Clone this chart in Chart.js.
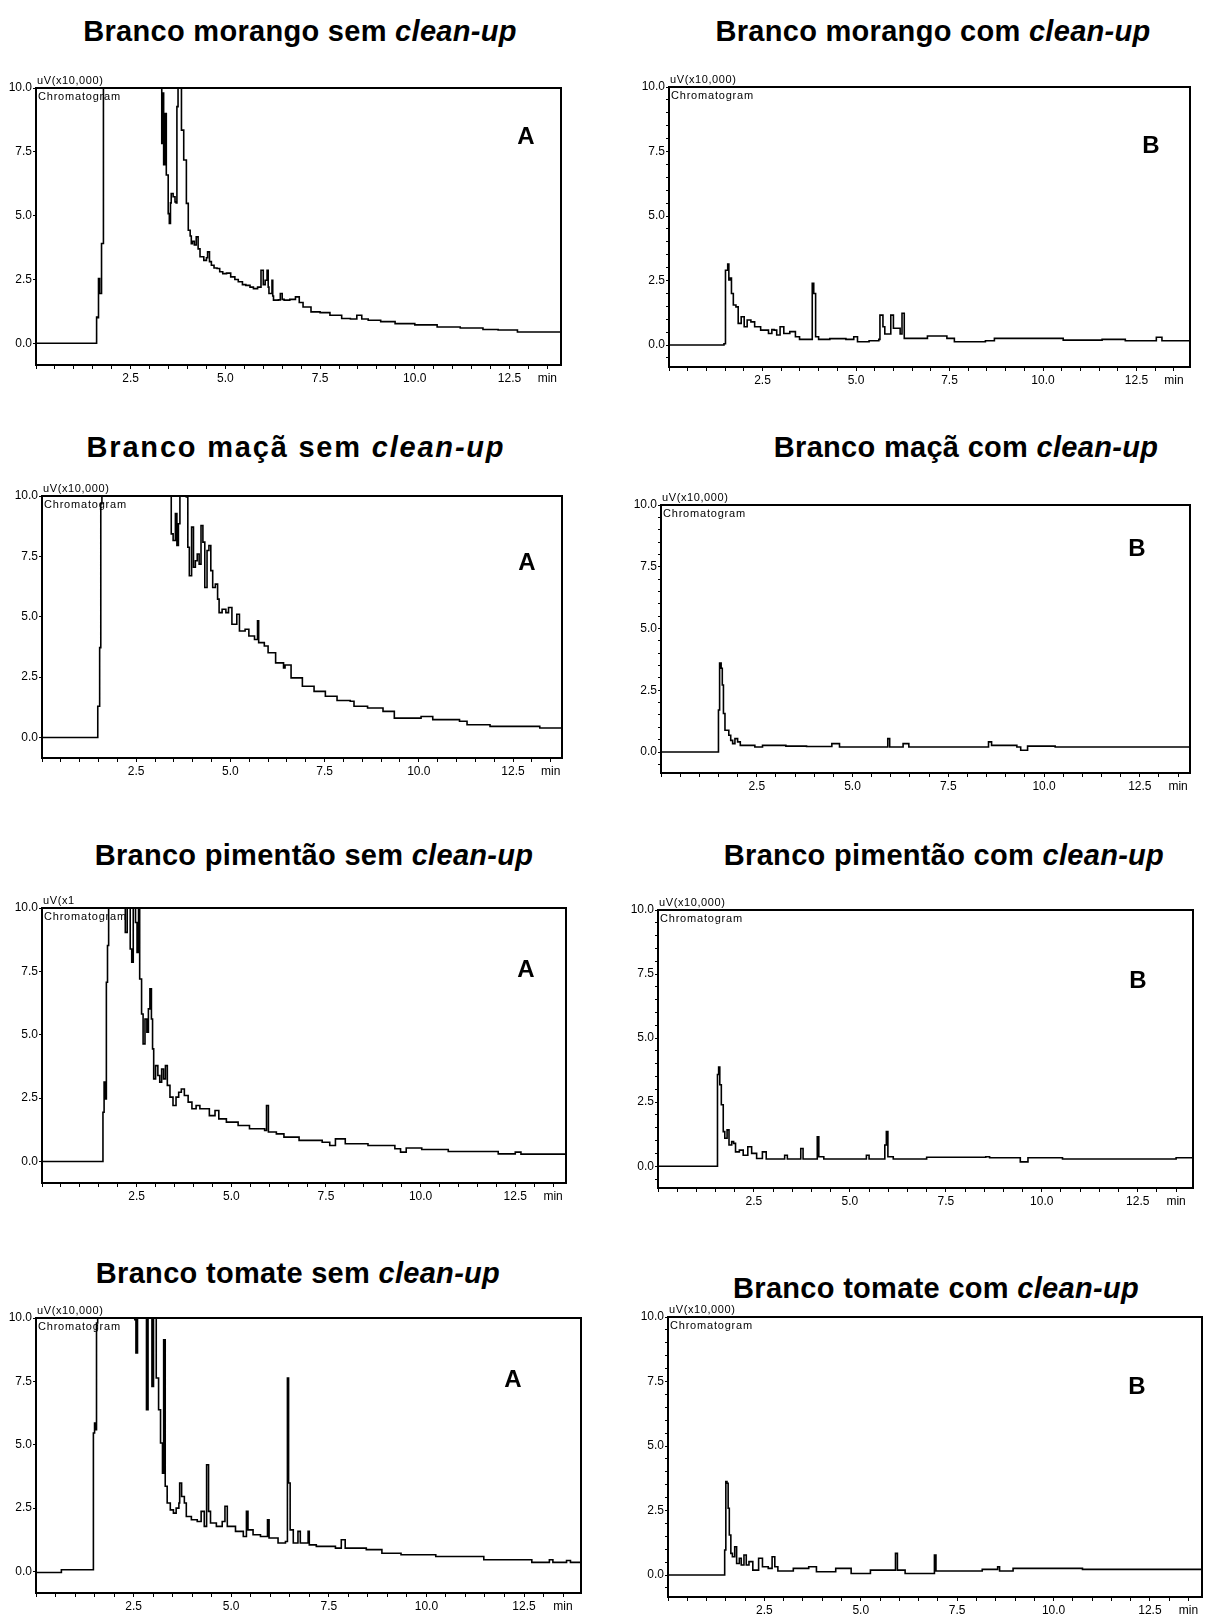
<!DOCTYPE html>
<html>
<head>
<meta charset="utf-8">
<script src="https://cdn.jsdelivr.net/npm/chart.js@4.4.0/dist/chart.umd.min.js"></script>
<style>
  body { margin: 0; background: #fff; }
  #page { position: relative; width: 1205px; height: 1617px; overflow: hidden; font-family: "Liberation Sans", Arial, sans-serif; color: #000; }
  .title { position: absolute; font-weight: bold; font-size: 29px; line-height: 29px; letter-spacing: 0.3px; white-space: nowrap; transform: translateX(-50%); }
  .tag { position: absolute; font-weight: bold; font-size: 24px; line-height: 24px; transform: translateX(-50%); }
  .unit { position: absolute; font-size: 11px; line-height: 11px; letter-spacing: 0.6px; white-space: nowrap; }
  .chrom { position: absolute; font-size: 11px; line-height: 11px; letter-spacing: 0.8px; white-space: nowrap; }
  canvas { position: absolute; }
</style>
</head>
<body>
<div id="page"></div>
<script>
// retention time (min), signal (uV x 10,000)
const morangoSem = [[0,0],[1.58,0],[1.60,1.03],[1.63,1.0],[1.65,2.54],[1.68,1.95],[1.70,1.95],[1.73,3.91],[1.78,12],[3.30,12],[3.32,7.83],[3.35,9.8],[3.37,7.0],[3.40,9.0],[3.44,6.59],[3.49,5.08],[3.52,4.69],[3.55,5.5],[3.57,5.87],[3.62,5.74],[3.67,5.54],[3.70,5.5],[3.72,9.27],[3.75,12],[3.82,12],[3.84,8.35],[3.90,7.18],[3.97,5.48],[4.02,4.43],[4.07,4.2],[4.10,3.9],[4.13,4.0],[4.18,3.85],[4.23,4.17],[4.28,3.7],[4.33,3.39],[4.43,3.25],[4.50,3.35],[4.53,3.58],[4.58,3.2],[4.63,3.06],[4.70,2.95],[4.78,2.93],[4.85,2.8],[4.93,2.73],[5.03,2.75],[5.14,2.60],[5.25,2.5],[5.34,2.41],[5.45,2.3],[5.54,2.27],[5.65,2.2],[5.74,2.14],[5.85,2.2],[5.94,2.86],[6.00,2.3],[6.05,2.47],[6.10,2.86],[6.13,2.2],[6.15,1.95],[6.23,2.47],[6.25,1.85],[6.27,1.69],[6.40,1.7],[6.45,1.95],[6.50,1.72],[6.55,1.69],[6.70,1.72],[6.85,1.82],[6.95,1.6],[7.05,1.42],[7.26,1.23],[7.50,1.2],[7.76,1.10],[8.07,0.97],[8.30,0.95],[8.47,1.10],[8.60,0.95],[8.77,0.90],[9.10,0.85],[9.48,0.77],[10.0,0.72],[10.59,0.64],[11.2,0.6],[11.8,0.54],[12.2,0.52],[12.71,0.44],[13.9,0.44]];
const morangoCom = [[0,0],[1.43,0],[1.47,0.05],[1.51,2.90],[1.57,3.14],[1.60,2.52],[1.63,2.6],[1.67,2.0],[1.72,1.55],[1.79,1.48],[1.85,0.84],[1.93,1.10],[2.01,0.71],[2.09,0.97],[2.19,0.90],[2.29,0.71],[2.45,0.58],[2.66,0.45],[2.75,0.6],[2.81,0.58],[2.88,0.39],[2.97,0.71],[3.07,0.45],[3.23,0.52],[3.38,0.32],[3.49,0.22],[3.78,0.22],[3.83,2.39],[3.87,2.0],[3.92,0.32],[4.00,0.22],[4.30,0.25],[4.73,0.22],[4.94,0.32],[5.04,0.13],[5.35,0.17],[5.61,0.22],[5.64,1.16],[5.72,0.71],[5.77,0.43],[5.89,0.43],[5.93,1.16],[6.00,0.65],[6.18,0.43],[6.23,1.23],[6.29,0.26],[6.80,0.26],[6.91,0.35],[7.43,0.26],[7.63,0.13],[8.46,0.17],[8.70,0.26],[9.50,0.26],[10.54,0.19],[11.58,0.22],[12.2,0.17],[13.03,0.30],[13.18,0.17],[13.95,0.17]];
const macaSem = [[0,0],[1.45,0],[1.48,1.29],[1.53,3.72],[1.56,9.68],[1.59,12],[3.41,12],[3.43,8.43],[3.48,8.16],[3.54,9.27],[3.58,7.95],[3.62,8.85],[3.66,12],[3.77,12],[3.83,9.96],[3.87,7.88],[3.91,6.70],[3.97,8.71],[4.02,7.05],[4.07,7.32],[4.12,7.60],[4.17,7.18],[4.22,8.78],[4.27,8.09],[4.32,6.21],[4.38,7.74],[4.43,7.95],[4.48,6.91],[4.53,6.21],[4.60,6.35],[4.66,5.73],[4.70,5.17],[4.78,5.31],[4.88,5.17],[4.95,5.38],[5.04,4.69],[5.17,5.10],[5.24,4.41],[5.39,4.48],[5.49,4.20],[5.64,4.06],[5.72,4.83],[5.75,3.93],[5.90,3.79],[6.00,3.51],[6.20,3.09],[6.41,2.88],[6.45,3.0],[6.61,2.47],[6.91,2.12],[7.22,1.91],[7.52,1.71],[7.83,1.53],[8.18,1.50],[8.28,1.29],[8.64,1.22],[9.05,1.08],[9.35,0.80],[10.06,0.87],[10.37,0.74],[11.08,0.67],[11.28,0.53],[11.89,0.46],[13.21,0.39],[13.95,0.39]];
const macaCom = [[0,0],[1.48,0],[1.50,1.70],[1.53,3.60],[1.57,3.39],[1.60,2.71],[1.63,1.56],[1.67,0.88],[1.73,0.88],[1.77,0.68],[1.82,0.47],[1.87,0.34],[1.93,0.54],[2.00,0.41],[2.07,0.27],[2.45,0.20],[2.65,0.27],[3.26,0.24],[3.80,0.22],[4.46,0.34],[4.66,0.20],[5.92,0.54],[5.97,0.20],[6.32,0.34],[6.47,0.20],[8.48,0.20],[8.55,0.41],[8.63,0.27],[9.29,0.20],[9.39,0.07],[9.49,0.07],[9.57,0.24],[10.29,0.20],[13.95,0.18]];
const pimentaoSem = [[0,0],[1.59,0],[1.61,1.94],[1.64,3.13],[1.67,2.47],[1.70,7.07],[1.73,8.52],[1.76,12],[2.17,12],[2.20,9.04],[2.25,12],[2.33,8.38],[2.37,7.86],[2.41,12],[2.47,9.43],[2.51,8.25],[2.55,12],[2.58,7.20],[2.63,5.82],[2.67,4.64],[2.72,5.62],[2.77,5.10],[2.81,6.02],[2.85,6.81],[2.89,5.62],[2.92,4.44],[2.95,3.26],[3.00,3.78],[3.06,3.39],[3.11,3.13],[3.16,3.65],[3.21,3.26],[3.26,3.78],[3.31,3.00],[3.38,2.54],[3.46,2.21],[3.54,2.54],[3.61,2.73],[3.68,2.86],[3.76,2.60],[3.86,2.34],[3.96,2.08],[4.07,2.21],[4.17,2.08],[4.32,2.08],[4.42,1.81],[4.57,2.01],[4.67,1.68],[4.87,1.55],[5.18,1.42],[5.48,1.29],[5.88,1.22],[5.93,2.21],[5.98,1.16],[6.19,1.09],[6.39,0.96],[6.79,0.83],[7.40,0.76],[7.60,0.63],[7.75,0.89],[8.01,0.70],[8.61,0.63],[9.32,0.50],[9.47,0.37],[9.62,0.53],[10.03,0.47],[10.73,0.39],[12.05,0.30],[12.50,0.37],[12.65,0.29],[13.95,0.29]];
const pimentaoCom = [[0,0],[1.53,0],[1.55,3.58],[1.58,3.87],[1.61,3.18],[1.65,2.40],[1.70,1.35],[1.74,1.09],[1.80,1.42],[1.85,0.83],[1.92,0.96],[1.97,0.89],[2.02,0.56],[2.12,0.63],[2.22,0.43],[2.34,0.76],[2.44,0.50],[2.57,0.30],[2.72,0.56],[2.82,0.28],[3.30,0.43],[3.37,0.28],[3.72,0.69],[3.78,0.28],[4.15,1.15],[4.19,0.37],[4.32,0.28],[5.43,0.43],[5.50,0.28],[5.91,0.83],[5.95,1.35],[5.99,0.37],[6.13,0.28],[7.0,0.35],[8.54,0.37],[8.64,0.33],[9.44,0.17],[9.64,0.33],[10.54,0.28],[13.50,0.33],[13.95,0.28]];
const tomateSem = [[-0.1,-0.04],[0.63,-0.04],[0.65,0.07],[1.45,0.07],[1.47,5.46],[1.50,5.86],[1.53,5.59],[1.55,9.80],[1.58,12],[2.50,12],[2.53,9.93],[2.55,12],[2.56,8.62],[2.60,12],[2.80,12],[2.83,6.38],[2.87,12],[2.95,12],[2.97,7.30],[3.01,12],[3.06,12],[3.08,7.63],[3.14,6.38],[3.19,5.07],[3.24,3.88],[3.27,9.14],[3.31,3.36],[3.36,2.70],[3.44,2.43],[3.52,2.30],[3.59,2.50],[3.66,2.70],[3.68,3.49],[3.73,2.96],[3.80,2.70],[3.85,2.17],[3.98,2.04],[4.13,1.97],[4.23,2.37],[4.31,1.78],[4.37,4.21],[4.42,2.37],[4.47,1.91],[4.62,1.78],[4.77,1.97],[4.84,2.57],[4.90,1.78],[5.11,1.58],[5.31,1.38],[5.39,2.37],[5.43,1.64],[5.56,1.45],[5.75,1.38],[5.90,1.38],[5.93,2.04],[5.97,1.32],[6.20,1.12],[6.39,1.18],[6.44,7.63],[6.47,3.49],[6.51,1.64],[6.59,1.12],[6.71,1.58],[6.77,1.12],[6.97,1.58],[7.00,1.05],[7.18,0.99],[7.67,0.92],[7.82,1.25],[7.92,0.92],[8.46,0.86],[8.86,0.72],[9.35,0.66],[10.24,0.59],[11.47,0.46],[12.70,0.36],[13.15,0.46],[13.24,0.36],[13.59,0.43],[13.69,0.36],[14.0,0.36]];
const tomateCom = [[0,0],[1.45,0],[1.47,0.97],[1.50,3.62],[1.53,3.56],[1.56,2.59],[1.59,1.55],[1.63,0.84],[1.67,0.71],[1.73,1.10],[1.78,0.45],[1.85,0.65],[1.90,0.39],[1.97,0.78],[2.03,0.39],[2.10,0.52],[2.20,0.19],[2.35,0.65],[2.45,0.32],[2.60,0.26],[2.70,0.71],[2.77,0.32],[2.85,0.16],[3.25,0.26],[3.65,0.32],[3.85,0.13],[4.35,0.26],[4.75,0.06],[5.25,0.19],[5.85,0.19],[5.90,0.84],[5.95,0.19],[6.15,0.06],[6.85,0.06],[6.91,0.78],[6.95,0.16],[8.15,0.22],[8.55,0.32],[8.60,0.16],[8.95,0.26],[10.75,0.22],[13.95,0.16]];

// axis ticks
const xTicks = [0, 0.5, 1, 1.5, 2, 2.5, 3, 3.5, 4, 4.5, 5, 5.5, 6, 6.5, 7, 7.5, 8, 8.5, 9, 9.5, 10, 10.5, 11, 11.5, 12, 12.5, 13, 13.5];
const xLabeled = [2.5, 5, 7.5, 10, 12.5];
const xUnitTick = 13.5;
const yMajorTicks = [0, 2.5, 5, 7.5, 10];
const yMinorTicks = [-0.5, 0, 0.5, 1, 1.5, 2, 2.5, 3, 3.5, 4, 4.5, 5, 5.5, 6, 6.5, 7, 7.5, 8, 8.5, 9, 9.5, 10];

const page = document.getElementById("page");
const FONT = "'Liberation Sans', Arial, sans-serif";

// box = plot frame [left, top, right, bottom] in page pixels
const panels = [
  { data: morangoSem, title: "Branco morango sem", tag: "A", unit: "uV(x10,000)", box: [36, 88, 561, 365], xMax: 13.86, titleAt: [300, 41], tagAt: [526, 144], minorY: false },
  { data: morangoCom, title: "Branco morango com", tag: "B", unit: "uV(x10,000)", box: [669, 87, 1190, 367], xMax: 13.93, titleAt: [933, 41], tagAt: [1151, 153], minorY: true },
  { data: macaSem, title: "Branco maçã sem", tag: "A", unit: "uV(x10,000)", box: [42, 496, 562, 758], xMax: 13.8, titleAt: [296, 457], tagAt: [527, 570], minorY: false, spacing: 1.8 },
  { data: macaCom, title: "Branco maçã com", tag: "B", unit: "uV(x10,000)", box: [661, 505, 1190, 773], xMax: 13.81, titleAt: [966, 457], tagAt: [1137, 556], minorY: true },
  { data: pimentaoSem, title: "Branco pimentão sem", tag: "A", unit: "uV(x1", box: [42, 908, 566, 1183], xMax: 13.84, titleAt: [314, 865], tagAt: [526, 977], minorY: false },
  { data: pimentaoCom, title: "Branco pimentão com", tag: "B", unit: "uV(x10,000)", box: [658, 910, 1193, 1188], xMax: 13.94, titleAt: [944, 865], tagAt: [1138, 988], minorY: true },
  { data: tomateSem, title: "Branco tomate sem", tag: "A", unit: "uV(x10,000)", box: [36, 1318, 581, 1593], xMax: 13.96, titleAt: [298, 1283], tagAt: [513, 1387], minorY: false },
  { data: tomateCom, title: "Branco tomate com", tag: "B", unit: "uV(x10,000)", box: [668, 1317, 1202, 1597], xMax: 13.85, titleAt: [936, 1298], tagAt: [1137, 1394], minorY: true },
];

const frame = {
  id: "frame",
  afterDatasetsDraw(chart) {
    const { ctx, chartArea: a } = chart;
    ctx.save();
    ctx.strokeStyle = "#000";
    ctx.lineWidth = 2;
    ctx.strokeRect(a.left, a.top, a.right - a.left, a.bottom - a.top);
    ctx.restore();
  },
};

function addText(cls, html, left, top) {
  const el = document.createElement("div");
  el.className = cls;
  el.innerHTML = html;
  el.style.left = left + "px";
  el.style.top = top + "px";
  page.appendChild(el);
  return el;
}

function drawPanel(p) {
  const [L, T, R, B] = p.box;
  const padL = 40, padT = 12, padR = 3, padB = 30;
  const cv = document.createElement("canvas");
  cv.width = R - L + padL + padR;
  cv.height = B - T + padT + padB;
  cv.style.left = (L - padL) + "px";
  cv.style.top = (T - padT) + "px";
  page.appendChild(cv);

  const yTicks = p.minorY ? yMinorTicks : yMajorTicks;

  new Chart(cv.getContext("2d"), {
    type: "line",
    data: {
      datasets: [{
        data: p.data.map(([x, y]) => ({ x: x, y: y })),
        borderColor: "#000",
        borderWidth: 1.6,
        pointRadius: 0,
        fill: false,
        stepped: "before",
      }],
    },
    options: {
      responsive: false,
      animation: false,
      layout: { padding: { top: padT, right: padR, left: 0, bottom: 0 } },
      plugins: { legend: { display: false }, tooltip: { enabled: false } },
      scales: {
        x: {
          type: "linear",
          min: 0,
          max: p.xMax,
          afterFit: (s) => { s.height = padB; },
          afterBuildTicks: (s) => { s.ticks = xTicks.map((v) => ({ value: v })); },
          ticks: {
            autoSkip: false,
            maxRotation: 0,
            padding: 2,
            color: "#000",
            font: { size: 12, family: FONT },
            callback: (v) => {
              if (v === xUnitTick) return "min";
              return xLabeled.includes(v) ? v.toFixed(1) : "";
            },
          },
          grid: { drawOnChartArea: false, tickLength: 4, color: "#000", lineWidth: 1 },
          border: { display: false },
        },
        y: {
          min: -0.85,
          max: 10,
          afterFit: (s) => { s.width = padL; },
          afterBuildTicks: (s) => { s.ticks = yTicks.map((v) => ({ value: v })); },
          ticks: {
            autoSkip: false,
            padding: 1,
            color: "#000",
            font: { size: 12, family: FONT },
            callback: (v) => (yMajorTicks.includes(v) ? v.toFixed(1) : ""),
          },
          grid: { drawOnChartArea: false, tickLength: 3, color: "#000", lineWidth: 1 },
          border: { display: false },
        },
      },
    },
    plugins: [frame],
  });

  const t = addText("title", p.title + " <i>clean-up</i>", p.titleAt[0], p.titleAt[1] - 24);
  if (p.spacing) t.style.letterSpacing = p.spacing + "px";
  addText("tag", p.tag, p.tagAt[0], p.tagAt[1] - 20);
  addText("unit", p.unit, L + 1, T - 13);
  addText("chrom", "Chromatogram", L + 2, T + 3);
}

panels.forEach(drawPanel);
</script>
</body>
</html>
